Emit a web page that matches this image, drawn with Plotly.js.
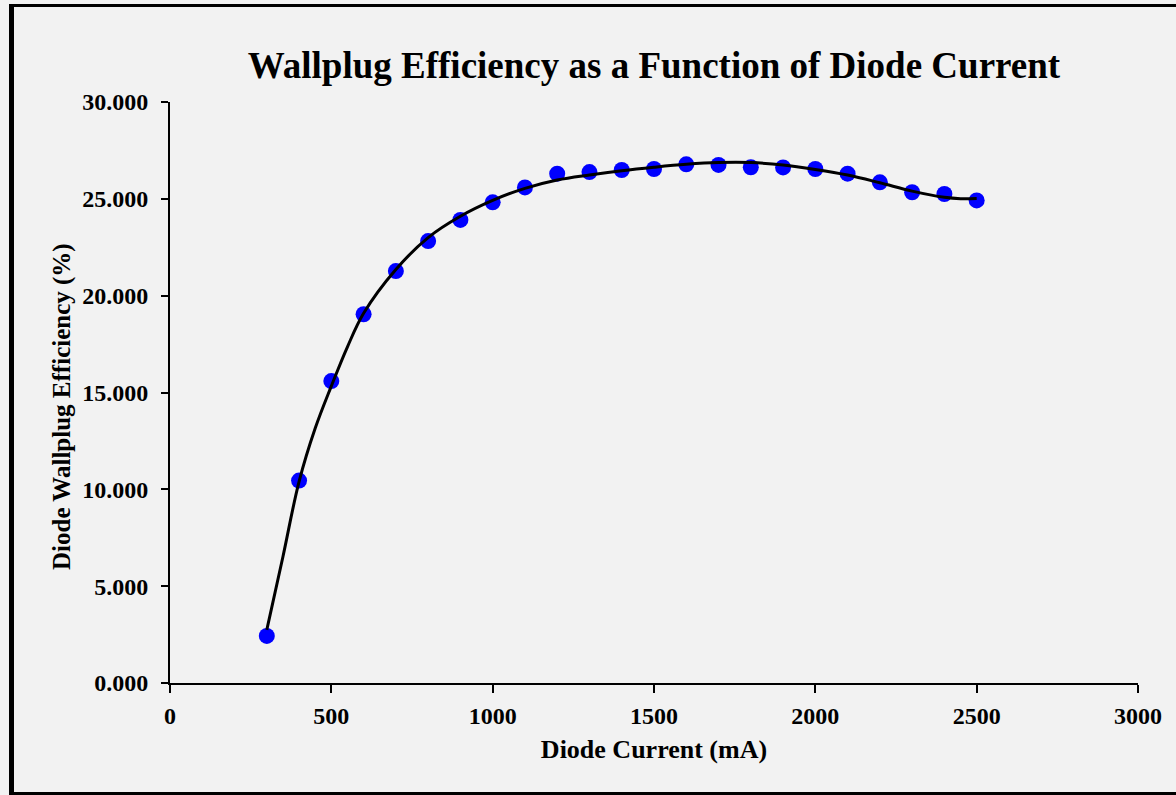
<!DOCTYPE html>
<html>
<head>
<meta charset="utf-8">
<script src="https://cdn.plot.ly/plotly-3.0.1.min.js"></script>
<style>
  html, body { margin: 0; padding: 0; background: #f2f2f2; overflow: hidden; }
  #chart { position: absolute; left: 0; top: 0; width: 1176px; height: 795px; }
  #frame { position: absolute; left: 9px; top: 4px; width: 1200px; height: 785px;
           border-left: 5px solid #000; border-top: 3px solid #000; border-bottom: 3px solid #000;
           pointer-events: none; }
</style>
</head>
<body>
<div id="chart"></div>
<div id="frame"></div>
<script>
// Measured data points
const currentMA = [300, 400, 500, 600, 700, 800, 900, 1000, 1100, 1200, 1300, 1400,
                   1500, 1600, 1700, 1800, 1900, 2000, 2100, 2200, 2300, 2400, 2500];
const efficiency = [2.43, 10.45, 15.59, 19.04, 21.27, 22.82, 23.91, 24.82, 25.59, 26.30, 26.38, 26.49,
                    26.54, 26.78, 26.75, 26.63, 26.62, 26.54, 26.30, 25.85, 25.34, 25.25, 24.92];

// Trendline values
const trendX = [300, 350, 400, 450, 500, 550, 600, 700, 800, 900, 1000, 1100, 1200, 1300,
                1400, 1500, 1600, 1700, 1800, 1900, 2000, 2100, 2200, 2300, 2400, 2450, 2500];
const trendY = [2.74, 6.52, 10.4, 13.15, 15.33, 17.36, 19.09, 21.35, 23.0, 24.1, 24.92, 25.54, 25.97, 26.23,
                26.45, 26.63, 26.78, 26.87, 26.87, 26.75, 26.52, 26.23, 25.83, 25.40, 25.08, 25.01, 25.02];

const xTicks = [0, 500, 1000, 1500, 2000, 2500, 3000];
const yTicks = [0, 5, 10, 15, 20, 25, 30];

const serif = '"Liberation Serif", "Times New Roman", serif';

const traces = [
  {
    x: currentMA, y: efficiency, type: 'scatter', mode: 'markers',
    marker: { color: '#0000ff', size: 16, line: { width: 0 } },
    showlegend: false, hoverinfo: 'x+y'
  },
  {
    x: trendX, y: trendY, type: 'scatter', mode: 'lines',
    line: { color: '#000000', width: 3, shape: 'spline', smoothing: 1 },
    showlegend: false, hoverinfo: 'skip'
  }
];

const layout = {
  width: 1176, height: 795,
  paper_bgcolor: '#f2f2f2', plot_bgcolor: '#f2f2f2',
  margin: { l: 170, r: 38, t: 102, b: 112, pad: 0 },
  title: {
    text: 'Wallplug Efficiency as a Function of Diode Current',
    font: { family: serif, size: 37, color: '#000', weight: 'bold' },
    x: 0.5, xanchor: 'center', xref: 'paper', y: 0.918, yanchor: 'middle'
  },
  xaxis: {
    range: [0, 3000], tickvals: xTicks, ticktext: xTicks.map(String),
    showgrid: false, zeroline: false, showline: true, linecolor: '#000', linewidth: 2,
    ticks: 'outside', ticklen: 8, tickwidth: 2, tickcolor: '#000', ticklabelstandoff: 2,
    tickfont: { family: serif, size: 24, color: '#000', weight: 'bold' },
    title: { text: 'Diode Current (mA)', font: { family: serif, size: 26, color: '#000', weight: 'bold' }, standoff: 12 }
  },
  yaxis: {
    range: [0, 30], tickvals: yTicks, ticktext: yTicks.map(v => v.toFixed(3)),
    showgrid: false, zeroline: false, showline: true, linecolor: '#000', linewidth: 2,
    ticks: 'outside', ticklen: 7, tickwidth: 2, tickcolor: '#000', ticklabelstandoff: 8,
    tickfont: { family: serif, size: 24, color: '#000', weight: 'bold' }
  },
  annotations: [{
    text: 'Diode Wallplug Efficiency (%)', textangle: -90, showarrow: false,
    xref: 'paper', yref: 'paper', x: -0.1116, y: 0.4768, xanchor: 'center', yanchor: 'middle',
    font: { family: serif, size: 25, color: '#000', weight: 'bold' }
  }]
};

Plotly.newPlot('chart', traces, layout, { displayModeBar: false, staticPlot: true });
</script>
</body>
</html>
